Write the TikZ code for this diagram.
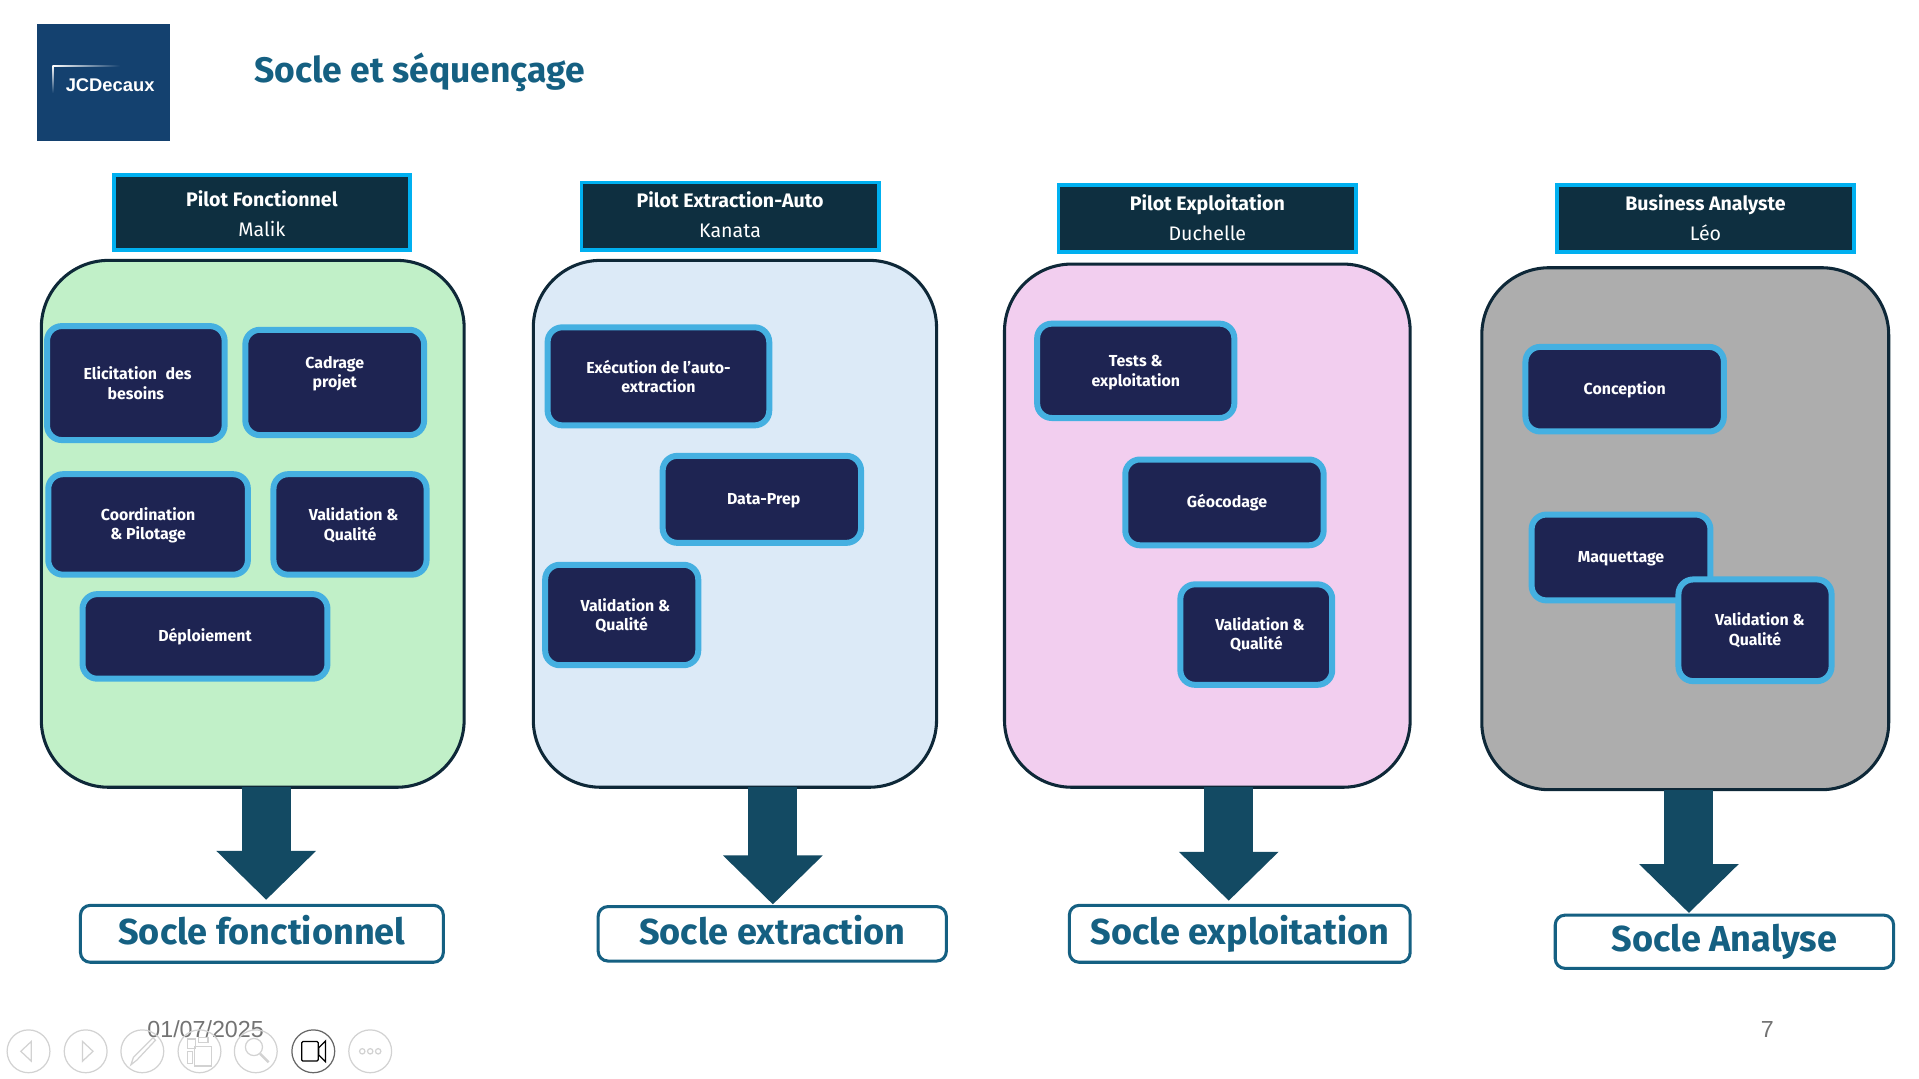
\documentclass[tikz,border=0pt]{standalone}
\usepackage{fontspec}
\setmainfont{Fira Sans}
\newfontfamily\arialf{Liberation Sans}
\usetikzlibrary{arrows.meta}
\definecolor{headfill}{HTML}{0E2F40}
\definecolor{headline}{HTML}{00B0F0}
\definecolor{innerfill}{HTML}{1E2452}
\definecolor{innerline}{HTML}{45B0E1}
\definecolor{panelline}{HTML}{0E2838}
\definecolor{pgreen}{HTML}{C1F0C8}
\definecolor{pblue}{HTML}{DCEAF7}
\definecolor{ppink}{HTML}{F2CEEF}
\definecolor{pgrey}{HTML}{ADADAD}
\definecolor{socle}{HTML}{156082}
\definecolor{arrowc}{HTML}{134A63}
\definecolor{logoc}{HTML}{14416F}
\definecolor{tool}{HTML}{D2D2D2}
\def\bxgrow{1}
\newcommand\bx[8]{%
  \pgfmathsetmacro\bxcx{(#4+#6)/2}\pgfmathsetmacro\bxcy{(#5+#7)/2}%
  \pgfmathsetmacro\bxw{#6-#4-#2+\bxgrow}\pgfmathsetmacro\bxh{#7-#5-#2+\bxgrow}%
  \node[#1,line width=#2pt,minimum width=\bxw pt,minimum height=\bxh pt] (#3) at (\bxcx,\bxcy) {#8};}
\newcommand\tops[1]{\rule{0pt}{#1pt}}
\newcommand\deps[1]{\rule[-#1pt]{0pt}{#1pt}}
\newcommand\oneln[1]{\rule[-3pt]{0pt}{14pt}#1}
\newcommand\sln[1]{\rule[-6pt]{0pt}{29pt}#1}
\newcommand\valq[1]{\hspace*{#1pt}Validation \&\\Qualité}
\tikzset{
  base/.style={draw,rectangle,inner sep=0pt,outer sep=0pt,align=center},
  headbox/.style={base,draw=headline,fill=headfill,text=white,font=\fontsize{16}{24.5}\selectfont},
  panel/.style={base,draw=panelline,rounded corners=55pt},
  innerbox/.style={base,draw=innerline,fill=innerfill,text=white,rounded corners=12pt,font=\fontsize{13}{16}\selectfont\bfseries},
  soclebox/.style={base,draw=socle,fill=white,text=socle,rounded corners=8pt,font=\fontsize{29.5}{32}\selectfont\bfseries},
  flow/.style={draw=arrowc,line width=40pt,-{Triangle[length=40pt,width=79pt]}},
  toolc/.style={draw=tool,line width=1pt,circle,minimum size=35pt,inner sep=0pt,outer sep=0pt},
  ticon/.style={draw=tool,line width=1pt},
}
\begin{document}
\begin{tikzpicture}[x=1pt,y=-1pt]
\useasboundingbox (0,0) rectangle (1568,881.6);
\fill[white] (0,0) rectangle (1568,881.6);
% logo
\node[rectangle,fill=logoc,inner sep=0pt,outer sep=0pt,minimum width=108.5pt,minimum height=95.5pt] (logo) at (84.5,67.5) {};
\node[text=white,inner sep=0pt,font=\arialf\bfseries\fontsize{15}{16}\selectfont] (logot) at (90,69.5) {JCDecaux};
\shade[left color=white,right color=logoc] (43,53.5) rectangle (98,54.5);
\shade[top color=white,bottom color=logoc] (43,53.5) rectangle (44,76);
\node[inner sep=0pt,anchor=west,text=socle,font=\fontsize{29}{32}\selectfont\bfseries] (title) at (207.5,59) {Socle et séquençage};
% arrows' end points on the columns
\coordinate (c1) at (217.5,0);\coordinate (c2) at (631.5,0);\coordinate (c3) at (1004,0);\coordinate (c4) at (1380,0);
% panels
\bx{panel,fill=pgreen}{2.5}{p1}{33}{212}{380}{644}{}
\bx{panel,fill=pblue}{2.5}{p2}{435}{212}{766}{644}{}
\bx{panel,fill=ppink}{2.5}{p3}{820}{215}{1153}{644}{}
\bx{panel,fill=pgrey}{2.5}{p4}{1210}{218}{1544}{646}{}
% headers
\bx{headbox}{3}{h1}{92}{142}{336}{205}{\tops{15}\textbf{Pilot Fonctionnel}\\Malik}
\bx{headbox}{3}{h2}{474}{148}{719}{205}{\textbf{Pilot Extraction-Auto}\\Kanata\deps{2}}
\bx{headbox}{3}{h3}{864}{150}{1109}{207}{\textbf{Pilot Exploitation}\\Duchelle\deps{2}}
\bx{headbox}{3}{h4}{1271}{150}{1516}{207}{\textbf{Business Analyste}\\Léo\deps{2}}
% socle boxes
\bx{soclebox}{2.5}{s1}{65}{739}{363}{787}{\sln{Socle fonctionnel}}
\bx{soclebox}{2.5}{s2}{488}{740}{774}{786}{\sln{Socle extraction}}
\bx{soclebox}{2.5}{s3}{873}{739}{1153}{787}{\sln{Socle exploitation}}
\bx{soclebox}{2.5}{s4}{1270}{747}{1548}{792}{\sln{Socle Analyse}}
% inner boxes
\def\bxgrow{0}
\bx{innerbox}{4.9}{a1}{36}{264}{186}{362}{\hspace*{3pt}Elicitation\hspace{4pt} des\\besoins}
\bx{innerbox}{4.9}{a2}{198}{267}{349}{358}{Cadrage\\projet\deps{17}}
\bx{innerbox}{4.9}{a3}{37}{385}{205}{472}{\tops{12}Coordination\\\& Pilotage}
\bx{innerbox}{4.9}{a4}{221}{385}{351}{472}{\tops{12}\valq{6}}
\bx{innerbox}{4.9}{a5}{65}{483}{270}{557}{\oneln{Déploiement}}
\bx{innerbox}{4.9}{b1}{445}{265}{631}{350}{Exécution de l’auto-\\extraction}
\bx{innerbox}{4.9}{b2}{539}{370}{706}{446}{\oneln{\hspace*{3pt}Data-Prep}}
\bx{innerbox}{4.9}{b3}{443}{459}{573}{546}{\tops{12}\valq{6}}
\bx{innerbox}{4.9}{d1}{845}{262}{1011}{344}{\tops{12}Tests \&\\exploitation}
\bx{innerbox}{4.9}{d2}{917}{373}{1084}{448}{\oneln{\hspace*{4pt}Géocodage}}
\bx{innerbox}{4.9}{d3}{962}{475}{1091}{562}{\valq{6}}
\bx{innerbox}{4.9}{e1}{1244}{281}{1411}{355}{\oneln{Conception}}
\bx{innerbox}{4.9}{e2}{1249}{418}{1400}{493}{\oneln{Maquettage}}
\bx{innerbox}{4.9}{e3}{1369}{471}{1499}{559}{\valq{8}}
% flow arrows
\draw[flow,shorten >=4.5pt] (p1.south -| c1) -- (s1.north -| c1);
\draw[flow,shorten >=1.75pt] (p2.south -| c2) -- (s2.north -| c2);
\draw[flow,shorten >=3.75pt] (p3.south -| c3) -- (s3.north -| c3);
\draw[flow,shorten >=1.75pt] (p4.south -| c4) -- (s4.north -| c4);
% footer
\node[inner sep=0pt,text=black!55,font=\arialf\fontsize{19}{20}\selectfont] (date) at (168,841) {01/07/2025};
\node[inner sep=0pt,text=black!55,font=\arialf\fontsize{19}{20}\selectfont] (page) at (1444,841) {7};
% toolbar
\node[toolc] (t1) at (23.3,859) {};
\node[toolc] (t2) at (70,859) {};
\node[toolc] (t3) at (116.3,859) {};
\node[toolc] (t4) at (163,859) {};
\node[toolc] (t5) at (209,859) {};
\node[toolc,draw=black!60] (t6) at (256,859) {};
\node[toolc] (t7) at (302.5,859) {};
\draw[ticon] (25.5,851) -- (17,859) -- (25.5,867) -- cycle;
\draw[ticon] (67.5,851) -- (76,859) -- (67.5,867) -- cycle;
\draw[ticon] (107,870) -- (109,864) -- (125,848) -- (127,850) -- (112,866) -- cycle;
\draw[ticon] (153,849) rectangle (160,857) (153,859) rectangle (157,869) (162,848) rectangle (170,852) (159,855) rectangle (173,871);
\draw[ticon] (207.5,855.5) circle (7pt);
\draw[ticon,line width=2pt] (212.5,861) -- (219.5,868);
\draw[black,line width=1pt,rounded corners=1pt] (246.5,851) rectangle (260,867);
\draw[black,line width=1pt] (266,850.5) -- (260.5,856) -- (260.5,862) -- (266,867.5) -- cycle;
\draw[ticon] (296,859) circle (2.2pt) (302.5,859) circle (2.2pt) (309,859) circle (2.2pt);
\end{tikzpicture}
\end{document}
